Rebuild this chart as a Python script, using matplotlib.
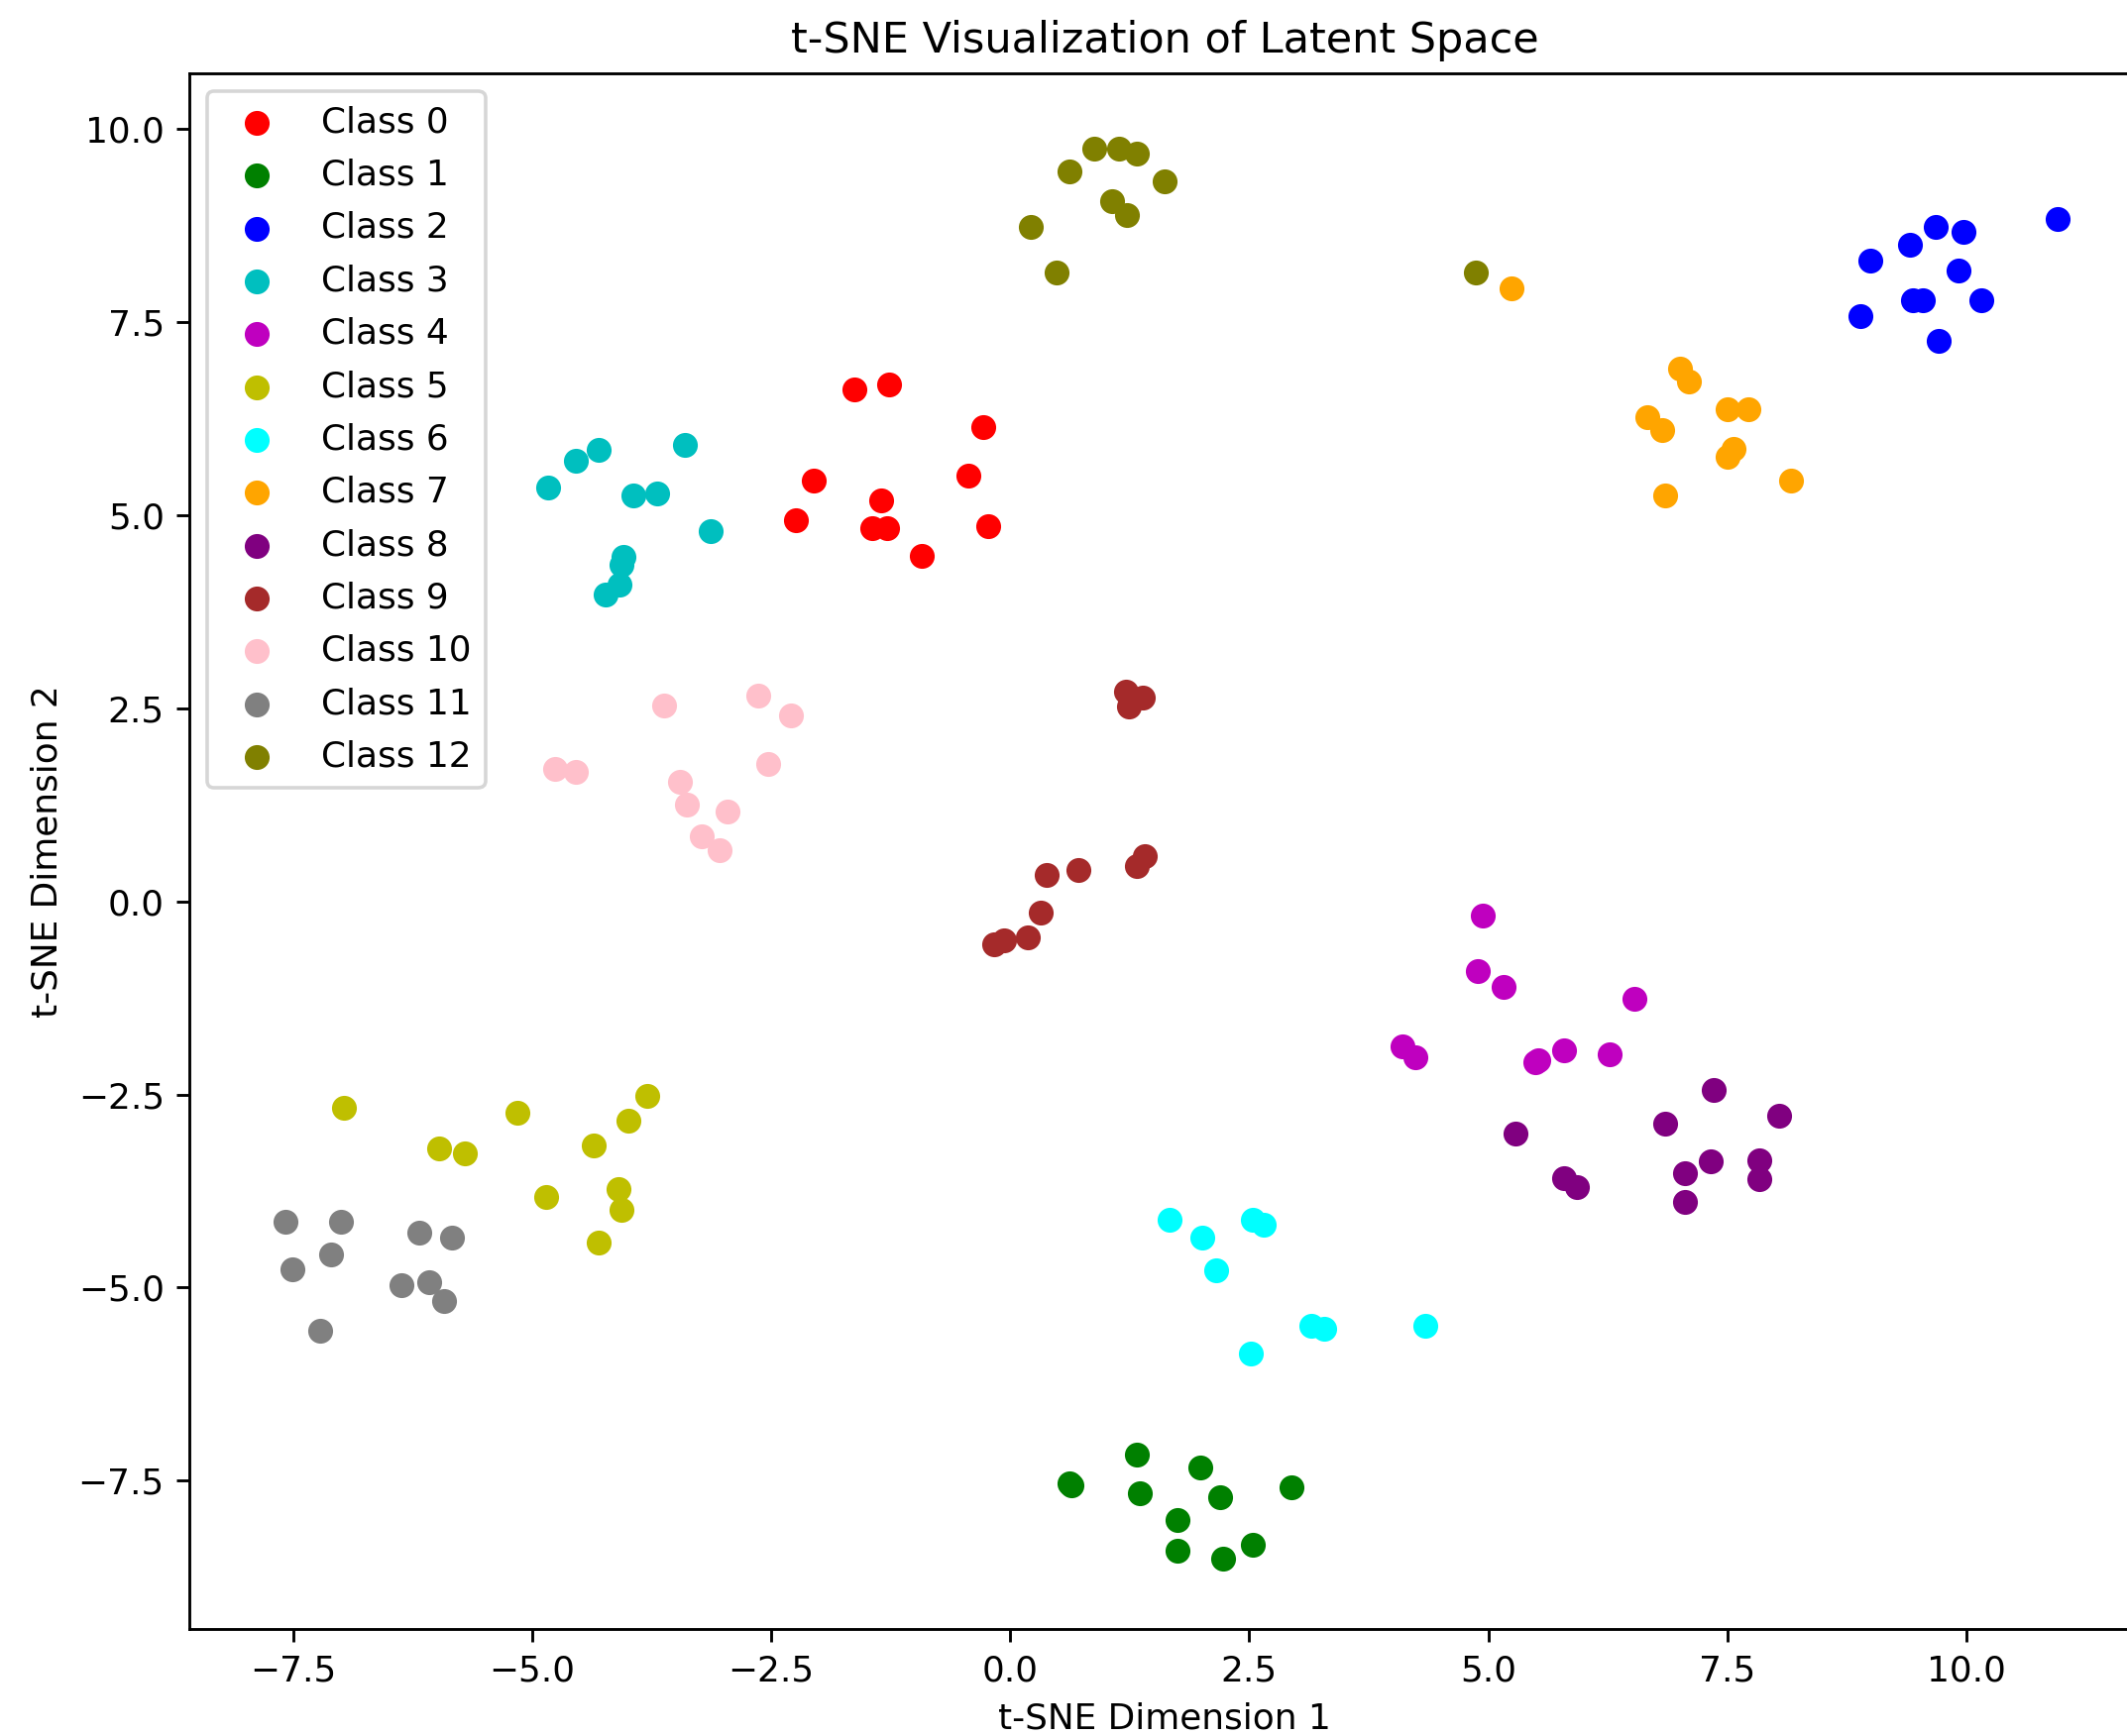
import matplotlib
matplotlib.use("Agg")
import matplotlib.pyplot as plt

class_names = [f"Class {i}" for i in range(13)]
colors = ['red', 'green', 'blue', 'c', 'm', 'y', 'cyan', 'orange',
          'purple', 'brown', 'pink', 'gray', 'olive']

# Class 0
x0 = [-1.632, -1.266, -0.284, -2.055, -0.440, -1.346, -2.244, -1.442, -1.290, -0.232, -0.921]
y0 = [6.630, 6.694, 6.141, 5.451, 5.516, 5.194, 4.929, 4.830, 4.830, 4.860, 4.467]
# Class 1
x1 = [1.326, 1.990, 0.618, 0.640, 2.940, 1.353, 2.196, 1.747, 2.542, 1.747, 2.225]
y1 = [-7.162, -7.329, -7.530, -7.555, -7.590, -7.659, -7.719, -8.014, -8.336, -8.409, -8.508]
# Class 2
x2 = [9.683, 9.973, 9.416, 8.995, 10.951, 9.921, 9.444, 9.548, 10.157, 8.892, 9.707]
y2 = [8.734, 8.665, 8.506, 8.301, 8.832, 8.172, 7.778, 7.778, 7.778, 7.581, 7.251]
# Class 3
x3 = [-3.402, -4.304, -4.542, -4.835, -3.938, -3.695, -3.136, -4.043, -4.065, -4.086, -4.231]
y3 = [5.910, 5.846, 5.708, 5.357, 5.258, 5.280, 4.796, 4.458, 4.359, 4.102, 3.973]
# Class 4
x4 = [4.947, 4.892, 5.162, 6.531, 4.101, 4.236, 5.496, 5.526, 5.791, 6.269]
y4 = [-0.186, -0.906, -1.104, -1.266, -1.883, -2.024, -2.080, -2.060, -1.927, -1.986]
# Class 5
x5 = [-3.799, -6.972, -5.151, -3.990, -5.970, -5.707, -4.356, -4.856, -4.093, -4.065, -4.304]
y5 = [-2.513, -2.672, -2.740, -2.843, -3.199, -3.267, -3.165, -3.824, -3.721, -3.996, -4.415]
# Class 6
x6 = [1.672, 2.542, 2.653, 2.014, 2.152, 3.154, 3.285, 4.346, 2.518]
y6 = [-4.116, -4.116, -4.189, -4.351, -4.771, -5.495, -5.530, -5.495, -5.851]
# Class 7
x7 = [5.241, 7.008, 7.094, 7.508, 7.726, 6.663, 6.821, 7.567, 7.508, 8.172, 6.852]
y7 = [7.941, 6.900, 6.729, 6.369, 6.369, 6.274, 6.107, 5.855, 5.752, 5.451, 5.258]
# Class 8
x8 = [7.357, 8.044, 6.852, 5.289, 7.322, 7.830, 7.060, 7.830, 5.791, 5.929, 7.060]
y8 = [-2.445, -2.775, -2.873, -3.001, -3.366, -3.353, -3.524, -3.598, -3.589, -3.695, -3.888]
# Class 9
x9 = [1.215, 1.391, 1.243, 1.408, 1.323, 0.717, 0.379, 0.323, 0.188, -0.060, -0.164]
y9 = [2.718, 2.632, 2.526, 0.589, 0.460, 0.405, 0.344, -0.148, -0.469, -0.504, -0.555]
# Class 10
x10 = [-3.617, -2.638, -2.293, -4.757, -4.542, -2.535, -3.457, -3.378, -2.956, -3.223, -3.036]
y10 = [2.533, 2.667, 2.405, 1.716, 1.681, 1.784, 1.553, 1.253, 1.163, 0.837, 0.666]
# Class 11
x11 = [-7.580, -7.000, -6.178, -5.839, -7.107, -7.504, -6.365, -6.074, -5.919, -7.214]
y11 = [-4.150, -4.150, -4.283, -4.347, -4.574, -4.767, -4.968, -4.929, -5.170, -5.555]
# Class 12
x12 = [0.880, 1.142, 1.322, 0.617, 1.616, 1.063, 1.222, 0.216, 0.483, 4.868]
y12 = [9.749, 9.749, 9.680, 9.449, 9.320, 9.059, 8.892, 8.729, 8.143, 8.143]

xs = [x0, x1, x2, x3, x4, x5, x6, x7, x8, x9, x10, x11, x12]
ys = [y0, y1, y2, y3, y4, y5, y6, y7, y8, y9, y10, y11, y12]

W, H, DPI = 2146, 1752, 258
fig = plt.figure(figsize=(W / DPI, H / DPI), dpi=DPI)
ax = fig.add_axes([191 / W, 108 / H, 1968 / W, 1570 / H])

for name, col, xv, yv in zip(class_names, colors, xs, ys):
    ax.scatter(xv, yv, c=col, label=name)

ax.set_xlim(-8.586, 11.816)
ax.set_ylim(-9.42, 10.72)
ax.set_title("t-SNE Visualization of Latent Space")
ax.set_xlabel("t-SNE Dimension 1")
ax.set_ylabel("t-SNE Dimension 2")
ax.legend(loc="upper left", labelspacing=0.54)

fig.savefig("out.png", dpi=DPI)
